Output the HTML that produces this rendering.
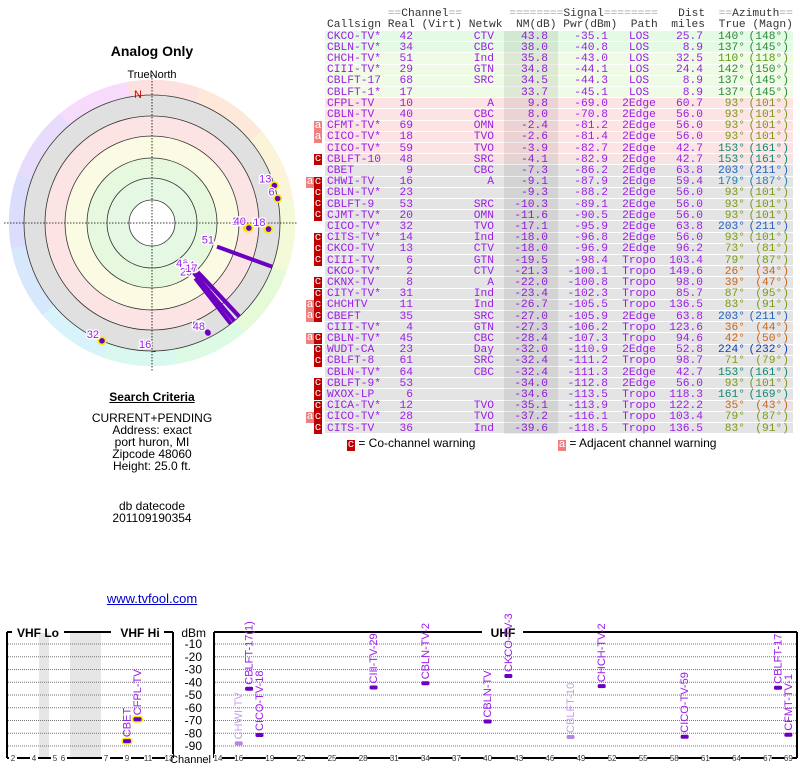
<!DOCTYPE html>
<html><head><meta charset="utf-8">
<style>
body{margin:0;width:800px;height:768px;background:#fff;position:relative;overflow:hidden;font-family:"Liberation Sans",sans-serif}
.t{position:absolute;font-family:"Liberation Mono",monospace;font-size:11.25px;line-height:11.2px;white-space:pre;color:#9a1ee6}
.lbl{position:absolute;font-size:12px;color:#000;text-align:center;width:300px;left:2px}
.row{position:absolute;left:325px;width:468px;height:10.2px;border-bottom:1px solid #fff}
.mk{position:absolute;width:8px;height:11px;font-family:"Liberation Mono",monospace;font-size:11px;line-height:11px;color:#fff;text-align:center}
.mc{background:#c00000}.ma{background:#f08080}
</style></head><body>
<div class="lbl" style="top:43px;font-size:14px;font-weight:bold">Analog Only</div>
<svg id="polar" style="position:absolute;left:0;top:60px" width="305" height="330"></svg>
<div class="lbl" style="top:390px;font-weight:bold;text-decoration:underline">Search Criteria</div>
<div class="lbl" style="top:412px;line-height:12px">CURRENT+PENDING<br>Address: exact<br>port huron, MI<br>Zipcode 48060<br>Height: 25.0 ft.</div>
<div class="lbl" style="top:500px;line-height:12px">db datecode<br>201109190354</div>
<div class="lbl" style="top:591px;font-size:13px;color:#00c;text-decoration:underline">www.tvfool.com</div>

<div class="t" style="left:327px;top:9px;color:#333">         <span style="color:#aaa">==</span>Channel<span style="color:#aaa">==</span>       <span style="color:#aaa">========</span>Signal<span style="color:#aaa">========</span>   Dist  <span style="color:#aaa">==</span>Azimuth<span style="color:#aaa">==</span></div>
<div class="t" style="left:327px;top:20px;color:#333">Callsign Real (Virt) Netwk  NM(dB) Pwr(dBm)  Path  miles  True (Magn)</div>
<div id="table"></div>
<div style="position:absolute;left:504px;top:31px;width:54px;height:403px;background:rgba(0,0,0,0.07)"></div>

<div style="position:absolute;left:347px;top:436px;font-size:12px"><span class="mk mc" style="position:relative;display:inline-block">c</span> = Co-channel warning</div>
<div style="position:absolute;left:558px;top:436px;font-size:12px"><span class="mk ma" style="position:relative;display:inline-block">a</span> = Adjacent channel warning</div>

<svg id="bottom" style="position:absolute;left:0;top:610px" width="800" height="158"></svg>

<script>
// ---------- table data ----------
const callsigns=["CKCO-TV*","CBLN-TV*","CHCH-TV*","CIII-TV*","CBLFT-17","CBLFT-1*","CFPL-TV","CBLN-TV","CFMT-TV*","CICO-TV*","CICO-TV*","CBLFT-10","CBET","CHWI-TV","CBLN-TV*","CBLFT-9","CJMT-TV*","CICO-TV*","CITS-TV*","CKCO-TV","CIII-TV","CKCO-TV*","CKNX-TV","CITY-TV*","CHCHTV","CBEFT","CIII-TV*","CBLN-TV*","WUDT-CA","CBLFT-8","CBLN-TV*","CBLFT-9*","WXOX-LP","CICA-TV*","CICO-TV*","CITS-TV"];
const channels=[42,34,51,29,68,17,10,40,69,18,59,48,9,16,23,53,20,32,14,13,6,2,8,31,11,35,4,45,23,61,64,53,6,12,28,36];
const networks=["CTV","CBC","Ind","GTN","SRC","","A","CBC","OMN","TVO","TVO","SRC","CBC","A","","SRC","OMN","TVO","Ind","CTV","GTN","CTV","A","Ind","Ind","SRC","GTN","CBC","Day","SRC","CBC","","","TVO","TVO","Ind"];
const nmDb=[43.8,38.0,35.8,34.8,34.5,33.7,9.8,8.0,-2.4,-2.6,-3.9,-4.1,-7.3,-9.1,-9.3,-10.3,-11.6,-17.1,-18.0,-18.0,-19.5,-21.3,-22.0,-23.4,-26.7,-27.0,-27.3,-28.4,-32.0,-32.4,-32.4,-34.0,-34.6,-35.1,-37.2,-39.6];
const pwrDbm=[-35.1,-40.8,-43.0,-44.1,-44.3,-45.1,-69.0,-70.8,-81.2,-81.4,-82.7,-82.9,-86.2,-87.9,-88.2,-89.1,-90.5,-95.9,-96.8,-96.9,-98.4,-100.1,-100.8,-102.3,-105.5,-105.9,-106.2,-107.3,-110.9,-111.2,-111.3,-112.8,-113.5,-113.9,-116.1,-118.5];
const paths=["LOS","LOS","LOS","LOS","LOS","LOS","2Edge","2Edge","2Edge","2Edge","2Edge","2Edge","2Edge","2Edge","2Edge","2Edge","2Edge","2Edge","2Edge","2Edge","Tropo","Tropo","Tropo","Tropo","Tropo","2Edge","Tropo","Tropo","2Edge","Tropo","2Edge","2Edge","Tropo","Tropo","Tropo","Tropo"];
const miles=[25.7,8.9,32.5,24.4,8.9,8.9,60.7,56.0,56.0,56.0,42.7,42.7,63.8,59.4,56.0,56.0,56.0,63.8,56.0,96.2,103.4,149.6,98.0,85.7,136.5,63.8,123.6,94.6,52.8,98.7,42.7,56.0,118.3,122.2,103.4,136.5];
const azTrue=[140,137,110,142,137,137,93,93,93,93,153,153,203,179,93,93,93,203,93,73,79,26,39,87,83,203,36,42,224,71,153,93,161,35,79,83];
const azMagn=[148,145,118,150,145,145,101,101,101,101,161,161,211,187,101,101,101,211,101,81,87,34,47,95,91,211,44,50,232,79,161,101,169,43,87,91];
const warnings=["","","","","","","","","a","a","","c","","ac","c","c","c","","c","c","c","","c","c","ac","ac","","ac","c","c","","c","c","c","ac","c"];

function azColor(a){if(a<50)return"#c8661a";if(a<76)return"#8a9a10";if(a<100)return"#7a9a18";if(a<125)return"#5a9a10";if(a<150)return"#2a8a3a";if(a<170)return"#108a70";if(a<190)return"#2080b0";if(a<215)return"#2060c0";return"#1040b0";}
function rowBg(i){if(i<2)return"#e4fae4";if(i<6)return"#effbe4";if(i<11)return"#fde3e3";if(i<12)return"#f6e4e4";return"#e4e4e4";}
const tbl=document.getElementById('table');
const ROW0=31,RH=11.2;
function cell(txt,left,width,align,top,color){const d=document.createElement('div');d.className='t';d.style.left=left+'px';d.style.width=width+'px';d.style.textAlign=align;d.style.top=top+'px';if(color)d.style.color=color;d.textContent=txt;return d;}
for(let i=0;i<callsigns.length;i++){
  const top=ROW0+i*RH;
  const r=document.createElement('div');r.className='row';r.style.top=top+'px';r.style.background=rowBg(i);
  
  
  tbl.appendChild(r);
  const ty=top+0.5;
  const c1=cell(callsigns[i],327,70,'left',ty);
  
  
  tbl.appendChild(c1);
  const c2=cell(String(channels[i]),380,33,'right',ty);
  
  
  tbl.appendChild(c2);
  const c3=cell(networks[i],450,44,'right',ty);
  
  
  tbl.appendChild(c3);
  const c4=cell(nmDb[i].toFixed(1),500,48,'right',ty);
  
  
  tbl.appendChild(c4);
  const c5=cell(pwrDbm[i].toFixed(1),550,58,'right',ty);
  
  
  tbl.appendChild(c5);
  const c6=cell(paths[i],614,50,'center',ty);
  
  
  tbl.appendChild(c6);
  const c7=cell(miles[i].toFixed(1),660,43,'right',ty);
  
  
  tbl.appendChild(c7);
  const col=azColor(azTrue[i]);
  const c8=cell(azTrue[i]+'°',710,35,'right',ty,col);
  
  
  tbl.appendChild(c8);
  const c9=cell('('+azMagn[i]+'°)',745,44,'right',ty,col);
  
  
  tbl.appendChild(c9);
  const w=warnings[i];
  if(w.includes('c')){const m=document.createElement('div');m.className='mk mc';m.textContent='c';m.style.left='314px';m.style.top=top+'px';
    
    
    tbl.appendChild(m);}
  if(w.includes('a')){const m=document.createElement('div');m.className='mk ma';m.textContent='a';m.style.left=(w.includes('c')?306:314)+'px';m.style.top=top+'px';
    
    
    tbl.appendChild(m);}
}

// ---------- polar chart ----------
const polarLabels=["51","42","34","29","68","17","10","40","69","18","59","48","9","16","32","13","6"];
const polarAz=[110,140,137,142,137,137,93,93,93,93,153,153,203,179,203,73,79];
const polarNm=[35.8,43.8,38.0,34.8,34.5,33.7,9.8,8.0,-2.4,-2.6,-3.9,-4.1,-7.3,-9.1,-17.1,-18.0,-19.5];
const polarHalo=[0,0,0,0,0,0,1,1,1,1,0,0,1,0,1,1,1];
const NS='http://www.w3.org/2000/svg';
const P=document.getElementById('polar');
const cx=152,cy=163;
function rOf(nm){return nm>=0?105-nm:Math.min(128,105-nm*4.5);}
function mk(tag,attrs,parent){const e=document.createElementNS(NS,tag);for(const k in attrs)e.setAttribute(k,attrs[k]);(parent||P).appendChild(e);return e;}
const wheelCols=["#fde0e0","#fde8da","#fbf4d8","#f4fad8","#e6fad8","#dcfae4","#d8f8f0","#d8f4fa","#d8e8fc","#dcdcfc","#e8dcfc","#f6dcfa","#fcdcee"];
for(let k=0;k<36;k++){
  const a0=(k*10-90)*Math.PI/180,a1=((k+1)*10-90)*Math.PI/180;
  const idx=Math.round(k*10/30)%12;
  const p=mk('path',{d:`M${cx},${cy} L${cx+143*Math.cos(a0)},${cy+143*Math.sin(a0)} A143,143 0 0 1 ${cx+143*Math.cos(a1)},${cy+143*Math.sin(a1)} Z`,fill:wheelCols[idx],stroke:wheelCols[idx],'stroke-width':0.5});
  
  
}
const bands=[[128,'#e0e0e0'],[107,'#fde4e4'],[87,'#fbfbe4'],[65,'#e6f9de'],[45,'#e4f8e4'],[23,'#fff']];
bands.forEach(b=>{const c=mk('circle',{cx,cy,r:b[0],fill:b[1]});
  
  });
[23,45,65,87,107,128].forEach(r=>{const c=mk('circle',{cx,cy,r,fill:'none',stroke:'#333','stroke-width':0.8});
  
  });
const ax1=mk('line',{x1:cx,y1:cy-148,x2:cx,y2:cy+148,stroke:'#000','stroke-dasharray':'1.5,1.5','stroke-width':0.8});


const ax2=mk('line',{x1:cx-148,y1:cy,x2:cx+145,y2:cy,stroke:'#000','stroke-dasharray':'1.5,1.5','stroke-width':0.8});


const tn=mk('text',{x:cx,y:18,'text-anchor':'middle','font-size':11,fill:'#000'});tn.textContent='TrueNorth';


const nl=mk('text',{x:cx-14,y:38,'text-anchor':'middle','font-size':11,fill:'#d00000'});nl.textContent='N';


for(let i=0;i<polarLabels.length;i++){
  const a=(polarAz[i]-90)*Math.PI/180,r=rOf(polarNm[i]);
  const x=cx+r*Math.cos(a),y=cy+r*Math.sin(a);
  if(polarNm[i]>20){
    const l=mk('line',{x1:x,y1:y,x2:cx+128*Math.cos(a),y2:cy+128*Math.sin(a),stroke:'#6a00c0','stroke-width':4});
    
    
  }else if(polarAz[i]===179){
    const l=mk('line',{x1:x,y1:y,x2:cx+129*Math.cos(a),y2:cy+129*Math.sin(a),stroke:'#6a00c0','stroke-width':3});
    
    
  }else{
    if(polarHalo[i]){const h=mk('circle',{cx:x,cy:y,r:4.5,fill:'#f0f000'});
      
      }
    const d=mk('circle',{cx:x,cy:y,r:2.8,fill:'#6a00c0'});
    
    
  }
  const t=mk('text',{x:x-3,y:y-3,'text-anchor':'end','font-size':11,fill:'#9a1ee6',stroke:'#fff','stroke-width':2.5,'paint-order':'stroke'});
  t.textContent=polarLabels[i];
  
  
}

// ---------- bottom spectrum chart ----------
const specLabels=["CBET","CFPL-TV","CHWI-TV","CBLFT-17(1)","CICO-TV-18","CIII-TV-29","CBLN-TV-2","CBLN-TV","CKCO-TV-3","CBLFT-10","CHCH-TV-2","CICO-TV-59","CBLFT-17","CFMT-TV-1"];
const specChannels=[9,10,16,17,18,29,34,40,42,48,51,59,68,69];
const specDbm=[-86.2,-69.0,-87.9,-45.1,-81.4,-44.1,-40.8,-70.8,-35.1,-82.9,-43.0,-82.7,-44.3,-81.2];
const specFaint=[0,0,1,0,0,0,0,0,0,1,0,0,0,0];
const specHalo=[1,1,0,0,0,0,0,0,0,0,0,0,0,0];
const dbmTicks=[-10,-20,-30,-40,-50,-60,-70,-80,-90];
const vhfTicks=[2,4,5,6,7,9,11,13];
const uhfTicks=[14,16,19,22,25,28,31,34,37,40,43,46,49,52,55,58,61,64,67,69];
const B=document.getElementById('bottom');
function yOf(d){return 34+(-10-d)*1.275;}
const vhfMap={2:13,3:23.5,4:34,5:55,6:63,7:106,8:116.5,9:127,10:137.5,11:148,12:158.5,13:169};
function xOf(ch){return ch<=13?vhfMap[ch]:218+(ch-14)*10.37;}
function bm(tag,attrs){const e=document.createElementNS(NS,tag);for(const k in attrs)e.setAttribute(k,attrs[k]);B.appendChild(e);return e;}
const g1=bm('rect',{x:39,y:23,width:10,height:125,fill:'#e6e6e6'});


const g2=bm('rect',{x:70,y:23,width:31,height:125,fill:'#e6e6e6'});


dbmTicks.forEach(d=>{
  const y=yOf(d);
  const l1=bm('line',{x1:8,y1:y,x2:172,y2:y,stroke:'#777','stroke-dasharray':'1,1','stroke-width':1});
  
  
  const l2=bm('line',{x1:215,y1:y,x2:796,y2:y,stroke:'#777','stroke-dasharray':'1,1','stroke-width':1});
  
  
  const t=bm('text',{x:202,y:y+4,'text-anchor':'end','font-size':12});t.textContent=String(d);
  
  
});
const yt=bm('text',{x:206,y:27,'text-anchor':'end','font-size':12});yt.textContent='dBm';


// frames
const frames=[
 [7,22,7,148],[173,22,173,148],[7,148,173,148],[7,22,12,22],[64,22,111,22],[164,22,173,22],
 [214,22,214,148],[797,22,797,148],[214,148,797,148],[214,22,482,22],[523,22,797,22]];
frames.forEach(f=>{const l=bm('line',{x1:f[0],y1:f[1],x2:f[2],y2:f[3],stroke:'#000','stroke-width':2});
  
  });
[["VHF Lo",38],["VHF Hi",140],["UHF",503]].forEach(s=>{const t=bm('text',{x:s[1],y:27,'text-anchor':'middle','font-size':12,'font-weight':'bold'});t.textContent=s[0];
  
  });
vhfTicks.concat(uhfTicks).forEach(ch=>{
  const x=xOf(ch);
  const bg=bm('rect',{x:x-4,y:144,width:8,height:8,fill:'#fff'});
  
  
  const t=bm('text',{x:x,y:151,'text-anchor':'middle','font-size':8,fill:'#333'});t.textContent=String(ch);
  
  
});
const xbg=bm('rect',{x:176,y:142,width:36,height:14,fill:'#fff'});


const xt=bm('text',{x:211,y:153,'text-anchor':'end','font-size':11});xt.textContent='Channel';


for(let i=0;i<specLabels.length;i++){
  const x=xOf(specChannels[i]),y=yOf(specDbm[i]);
  const col=specFaint[i]?'#b488e0':'#6a00c0',tcol=specFaint[i]?'#c8a0ec':'#9a1ee6';
  if(specHalo[i]){const h=bm('rect',{x:x-5.5,y:y-3.5,width:11,height:7,rx:3,fill:'#f0f000'});
    
    }
  const r=bm('rect',{x:x-4,y:y-2,width:8,height:4,rx:1.5,fill:col});
  
  
  const t=bm('text',{x:0,y:0,'font-size':11,fill:tcol,transform:`translate(${x+3.5},${y-4}) rotate(-90)`});
  t.textContent=specLabels[i];
  
  
}
</script>
</body></html>
